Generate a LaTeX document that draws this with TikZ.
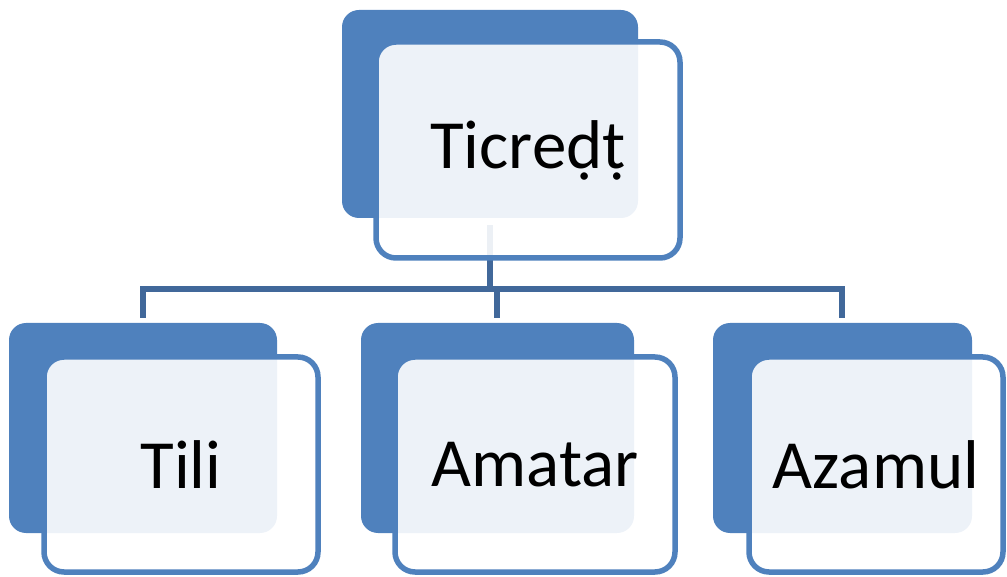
\documentclass[tikz,border=0pt]{standalone}
\usepackage{fontspec}
\setmainfont{Carlito}
\definecolor{darkblue}{HTML}{4F81BD}
\definecolor{linkblue}{HTML}{41689A}
\tikzset{
  backbox/.style={fill=darkblue, draw=none, rounded corners=17pt, inner sep=0pt, outer sep=0pt},
  frontbox/.style={fill=white, fill opacity=0.9, text opacity=1, draw=darkblue, line width=5.5pt,
     rounded corners=20pt, inner sep=0pt, outer sep=0pt, font=\fontsize{69pt}{80pt}\selectfont},
  link/.style={draw=linkblue, line width=5.5pt}
}
\begin{document}
\begin{tikzpicture}[x=1pt,y=-1pt]
\useasboundingbox (0,0) rectangle (1007,577);
% connector coordinates
\coordinate (ptop) at (490,225);
\coordinate (pbar) at (490,289);
\coordinate (lbar) at (143,289);
\coordinate (rbar) at (842,289);
\coordinate (mbar) at (497,289);
\coordinate (lend) at (143,318);
\coordinate (mend) at (497,318);
\coordinate (rend) at (842,318);
\draw[link] (ptop) -- (pbar);
\draw[link] (lend) -- (lbar) -- (rbar) -- (rend);
\draw[link] (mbar) -- (mend);
% back boxes
\node[backbox, minimum width=296pt, minimum height=208pt] (topback) at (490,114) {};
\node[backbox, minimum width=268pt, minimum height=210pt] (lback) at (143,428) {};
\node[backbox, minimum width=273pt, minimum height=210pt] (mback) at (497.5,428) {};
\node[backbox, minimum width=259pt, minimum height=210pt] (rback) at (842.5,428) {};
% front boxes
\node[frontbox, minimum width=304pt, minimum height=216pt] (top) at (528,150) {Ticreḍṭ};
\node[frontbox, minimum width=274pt, minimum height=215pt] (left) at (181,464.5) {Tili};
\node[frontbox, minimum width=280pt, minimum height=215pt] (mid) at (535,464.5) {Amatar};
\node[frontbox, minimum width=254pt, minimum height=215pt] (right) at (876,464.5) {Azamul};
\end{tikzpicture}
\end{document}
